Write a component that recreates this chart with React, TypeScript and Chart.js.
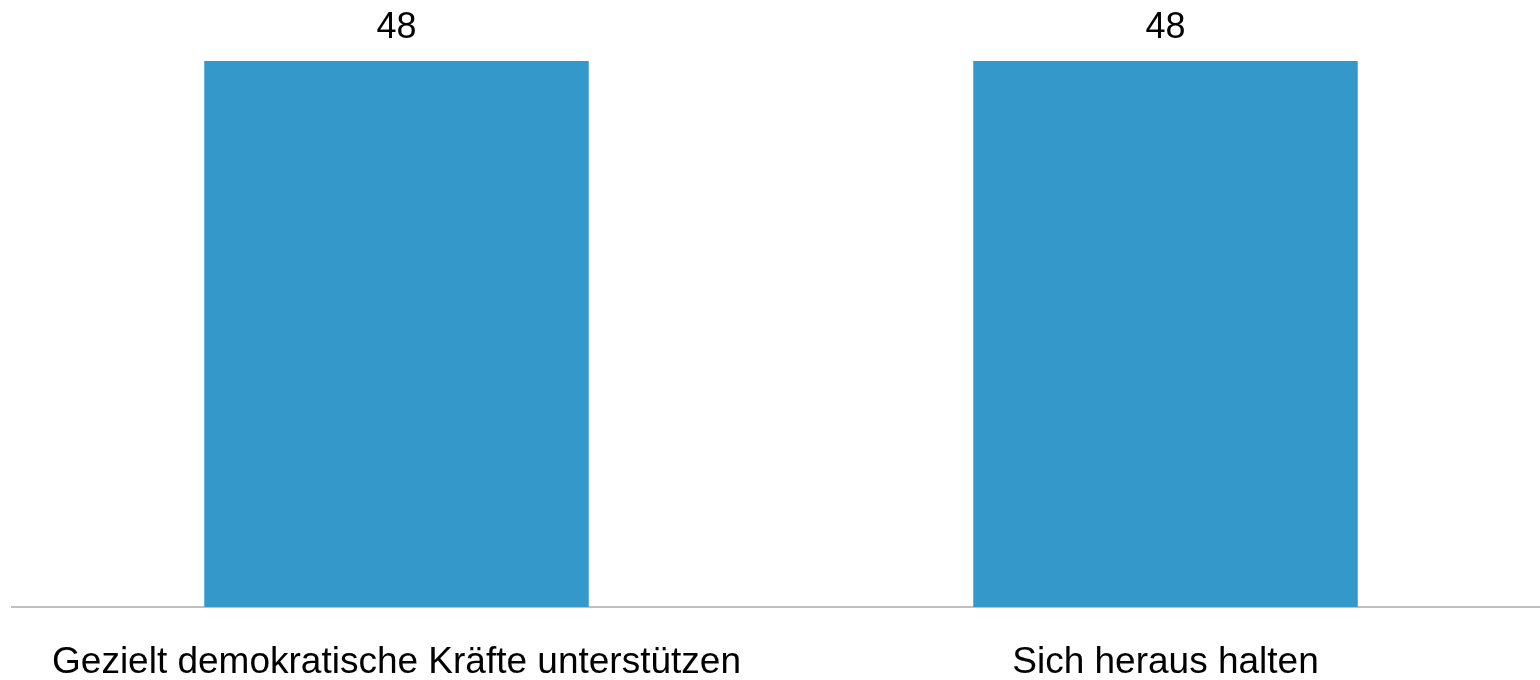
import React, { useEffect, useRef } from "react";
import { Chart, registerables } from "chart.js";

Chart.register(...registerables);

const categories = ["Gezielt demokratische Kräfte unterstützen", "Sich heraus halten"];
const values = [48, 48];

const FONT = "'Liberation Sans', Arial, sans-serif";

const valueLabels = {
  id: "valueLabels",
  afterDatasetsDraw(chart: any) {
    const ctx = chart.ctx;
    const meta = chart.getDatasetMeta(0);
    ctx.save();
    ctx.font = `36px ${FONT}`;
    ctx.fillStyle = "#000000";
    ctx.textAlign = "center";
    ctx.textBaseline = "alphabetic";
    meta.data.forEach((bar: any, i: number) => {
      ctx.fillText(String(chart.data.datasets[0].data[i]), bar.x, bar.y - 23);
    });
    ctx.restore();
  },
};

export default function App() {
  const ref = useRef<HTMLCanvasElement | null>(null);
  useEffect(() => {
    document.body.style.margin = "0";
    document.body.style.overflow = "hidden";
    document.documentElement.style.overflow = "hidden";
    const chart = new Chart(ref.current as HTMLCanvasElement, {
      type: "bar",
      data: {
        labels: categories,
        datasets: [
          {
            data: values,
            backgroundColor: "rgb(52,152,203)",
            borderWidth: 0,
            barPercentage: 0.5,
            categoryPercentage: 1,
          },
        ],
      },
      options: {
        animation: false,
        responsive: false,
        maintainAspectRatio: false,
        layout: { padding: { left: 12, right: 0, top: 61, bottom: 0 } },
        plugins: { legend: { display: false }, tooltip: { enabled: false } },
        scales: {
          x: {
            grid: { display: false, drawTicks: false },
            border: { display: true, color: "#bfbfbf", width: 2 },
            ticks: {
              color: "#000000",
              font: { family: FONT, size: 37 },
              padding: 34,
              maxRotation: 0,
              autoSkip: false,
            },
            afterFit(scale: any) {
              scale.height = 73;
            },
          },
          y: {
            display: false,
            min: 0,
            max: 48,
          },
        },
      },
      plugins: [valueLabels],
    });
    return () => chart.destroy();
  }, []);
  return (
    <div style={{ position: "absolute", left: 0, top: 0, width: 1550, height: 680 }}>
      <canvas ref={ref} width={1550} height={680} style={{ width: 1550, height: 680 }} />
    </div>
  );
}
